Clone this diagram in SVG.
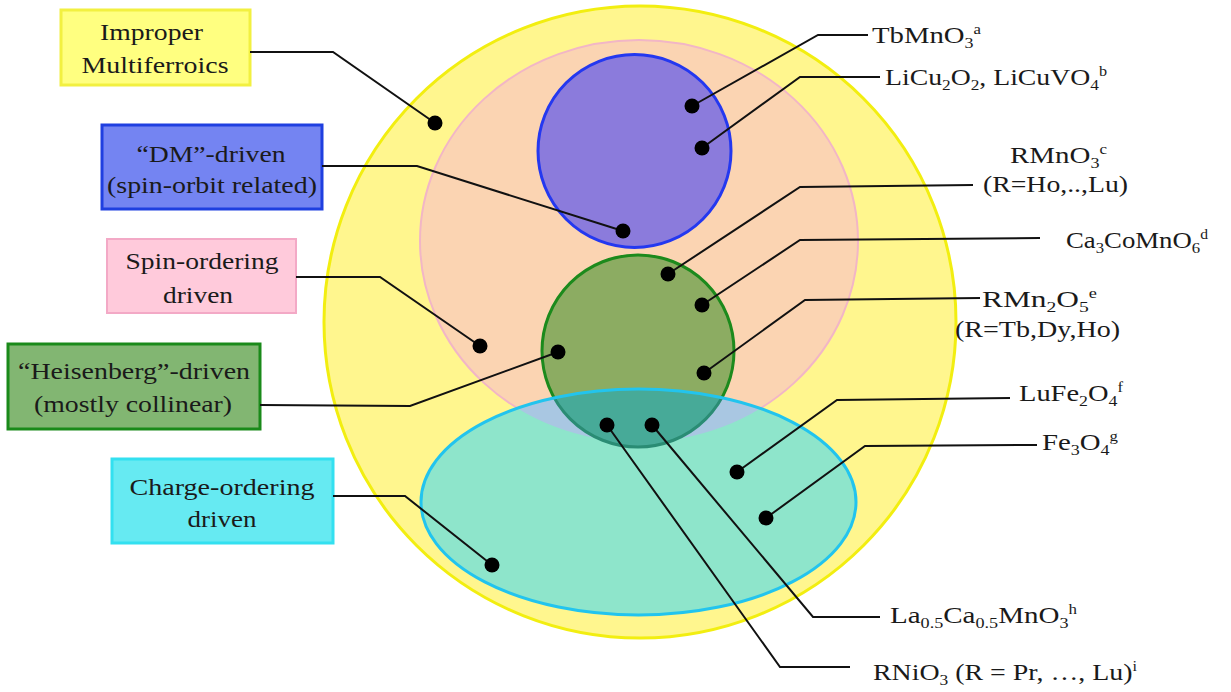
<svg xmlns="http://www.w3.org/2000/svg" width="1231" height="692" viewBox="0 0 1231 692">
<style>
text{font-family:"Liberation Serif","Times New Roman","DejaVu Serif",serif;font-size:24px;fill:#1a1a1a}
.sub{font-size:15px}
.sup{font-size:14px}
.conn{fill:none;stroke:#111;stroke-width:2}
.dot{fill:#000}
</style>
<defs>
<clipPath id="cyanClip"><ellipse cx="638.5" cy="502" rx="217.5" ry="113"/></clipPath>
</defs>
<rect width="1231" height="692" fill="#fff"/>
<g id="region-improper"><circle cx="640" cy="322" r="316" fill="#fff68e" stroke="#f2ee10" stroke-width="3"/></g>
<g id="region-spin"><ellipse cx="639" cy="241" rx="219" ry="201" fill="#fbd4b2" stroke="#f2b6c6" stroke-width="2"/></g>
<g id="region-dm"><circle cx="634.5" cy="151" r="96.5" fill="#8b7bdc" stroke="#2438f0" stroke-width="3"/></g>
<g id="region-heisenberg"><circle cx="638" cy="351" r="96" fill="#8cac62" stroke="#1c8a1c" stroke-width="3"/></g>
<g id="region-charge">
<ellipse cx="638.5" cy="502" rx="217.5" ry="113" fill="#8ee5cb"/>
<g clip-path="url(#cyanClip)">
<ellipse cx="639" cy="241" rx="219" ry="201" fill="#a9c7e2"/>
<circle cx="638" cy="351" r="96" fill="#47aa98" stroke="#2a8c74" stroke-width="3"/>
</g>
<ellipse cx="638.5" cy="502" rx="217.5" ry="113" fill="none" stroke="#22c4ee" stroke-width="3"/>
</g>

<g id="box-improper"><rect x="61" y="10" width="189" height="75" fill="#ffff80" stroke="#f2f040" stroke-width="3"/>
<text x="151.5" y="40" text-anchor="middle" textLength="103" lengthAdjust="spacingAndGlyphs">Improper</text>
<text x="155" y="73" text-anchor="middle" textLength="147" lengthAdjust="spacingAndGlyphs">Multiferroics</text></g>
<g id="box-dm"><rect x="102" y="125" width="220" height="84" fill="#7484f2" stroke="#1f3fe0" stroke-width="3"/>
<text x="211" y="162" text-anchor="middle" textLength="149" lengthAdjust="spacingAndGlyphs">“DM”-driven</text>
<text x="212" y="193" text-anchor="middle" textLength="210" lengthAdjust="spacingAndGlyphs">(spin-orbit related)</text></g>
<g id="box-spin"><rect x="107" y="239" width="189" height="74" fill="#ffcadb" stroke="#f3a9c6" stroke-width="2"/>
<text x="202" y="269" text-anchor="middle" textLength="153" lengthAdjust="spacingAndGlyphs">Spin-ordering</text>
<text x="198" y="303" text-anchor="middle" textLength="70" lengthAdjust="spacingAndGlyphs">driven</text></g>
<g id="box-heisenberg"><rect x="8" y="344" width="252" height="85" fill="#82b672" stroke="#1a8a1a" stroke-width="3"/>
<text x="134" y="379" text-anchor="middle" textLength="232" lengthAdjust="spacingAndGlyphs">“Heisenberg”-driven</text>
<text x="133" y="412" text-anchor="middle" textLength="198" lengthAdjust="spacingAndGlyphs">(mostly collinear)</text></g>
<g id="box-charge"><rect x="112" y="459" width="221" height="84" fill="#66eaf2" stroke="#33e0f0" stroke-width="3"/>
<text x="222" y="495" text-anchor="middle" textLength="185" lengthAdjust="spacingAndGlyphs">Charge-ordering</text>
<text x="222" y="527" text-anchor="middle" textLength="69" lengthAdjust="spacingAndGlyphs">driven</text></g>

<g id="connectors">
<polyline class="conn" points="250,52 333,52 435,123"/>
<polyline class="conn" points="322,166 417,166 623,231"/>
<polyline class="conn" points="296,277 380,277 480,346"/>
<polyline class="conn" points="260,405 410,406 558,352"/>
<polyline class="conn" points="333,496 405,496 492,565"/>
<polyline class="conn" points="868,35 818,35 692,106"/>
<polyline class="conn" points="880,77 800,77 702,148"/>
<polyline class="conn" points="973,185 800,187 668,274"/>
<polyline class="conn" points="1040,238 800,240 702,305"/>
<polyline class="conn" points="980,298 805,300 704,373"/>
<polyline class="conn" points="1010,398 837,400 737,472"/>
<polyline class="conn" points="1037,445 865,446 766,518"/>
<polyline class="conn" points="652,425 813,617 880,617"/>
<polyline class="conn" points="607,425 780,667 850,667"/>
</g>

<g id="dots">
<circle class="dot" cx="435" cy="123" r="7.5"/>
<circle class="dot" cx="623" cy="231" r="7.5"/>
<circle class="dot" cx="480" cy="346" r="7.5"/>
<circle class="dot" cx="558" cy="352" r="7.5"/>
<circle class="dot" cx="492" cy="565" r="7.5"/>
<circle class="dot" cx="692" cy="106" r="7.5"/>
<circle class="dot" cx="702" cy="148" r="7.5"/>
<circle class="dot" cx="668" cy="274" r="7.5"/>
<circle class="dot" cx="702" cy="305" r="7.5"/>
<circle class="dot" cx="704" cy="373" r="7.5"/>
<circle class="dot" cx="737" cy="472" r="7.5"/>
<circle class="dot" cx="766" cy="518" r="7.5"/>
<circle class="dot" cx="652" cy="425" r="7.5"/>
<circle class="dot" cx="607" cy="425" r="7.5"/>
</g>

<g id="label-tbmno3"><text x="872" y="43" textLength="109" lengthAdjust="spacingAndGlyphs">TbMnO<tspan class="sub" dy="5">3</tspan><tspan class="sup" dy="-14">a</tspan></text></g>
<g id="label-licu2o2"><text x="885" y="85" textLength="222" lengthAdjust="spacingAndGlyphs">LiCu<tspan class="sub" dy="5">2</tspan><tspan dy="-5">O</tspan><tspan class="sub" dy="5">2</tspan><tspan dy="-5">, LiCuVO</tspan><tspan class="sub" dy="5">4</tspan><tspan class="sup" dy="-14">b</tspan></text></g>
<g id="label-rmno3"><text x="1010" y="163" textLength="97" lengthAdjust="spacingAndGlyphs">RMnO<tspan class="sub" dy="5">3</tspan><tspan class="sup" dy="-14">c</tspan></text>
<text x="983" y="192" textLength="145" lengthAdjust="spacingAndGlyphs">(R=Ho,..,Lu)</text></g>
<g id="label-ca3comno6"><text x="1066" y="248" textLength="142" lengthAdjust="spacingAndGlyphs">Ca<tspan class="sub" dy="5">3</tspan><tspan dy="-5">CoMnO</tspan><tspan class="sub" dy="5">6</tspan><tspan class="sup" dy="-14">d</tspan></text></g>
<g id="label-rmn2o5"><text x="982" y="307" textLength="115" lengthAdjust="spacingAndGlyphs">RMn<tspan class="sub" dy="5">2</tspan><tspan dy="-5">O</tspan><tspan class="sub" dy="5">5</tspan><tspan class="sup" dy="-14">e</tspan></text>
<text x="955" y="337" textLength="165" lengthAdjust="spacingAndGlyphs">(R=Tb,Dy,Ho)</text></g>
<g id="label-lufe2o4"><text x="1019" y="401" textLength="104" lengthAdjust="spacingAndGlyphs">LuFe<tspan class="sub" dy="5">2</tspan><tspan dy="-5">O</tspan><tspan class="sub" dy="5">4</tspan><tspan class="sup" dy="-14">f</tspan></text></g>
<g id="label-fe3o4"><text x="1042" y="450" textLength="76" lengthAdjust="spacingAndGlyphs">Fe<tspan class="sub" dy="5">3</tspan><tspan dy="-5">O</tspan><tspan class="sub" dy="5">4</tspan><tspan class="sup" dy="-14">g</tspan></text></g>
<g id="label-lacamno3"><text x="890" y="623" textLength="187" lengthAdjust="spacingAndGlyphs">La<tspan class="sub" dy="5">0.5</tspan><tspan dy="-5">Ca</tspan><tspan class="sub" dy="5">0.5</tspan><tspan dy="-5">MnO</tspan><tspan class="sub" dy="5">3</tspan><tspan class="sup" dy="-14">h</tspan></text></g>
<g id="label-rnio3"><text x="873" y="680" textLength="264" lengthAdjust="spacingAndGlyphs">RNiO<tspan class="sub" dy="5">3</tspan><tspan dy="-5"> (R = Pr, …, Lu)</tspan><tspan class="sup" dy="-9">i</tspan></text></g>
</svg>
